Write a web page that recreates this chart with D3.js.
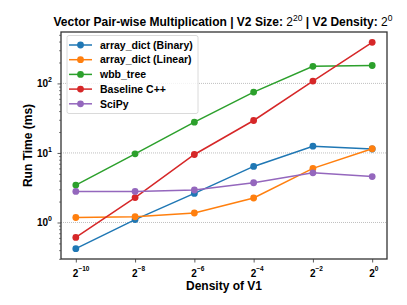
<!DOCTYPE html>
<html>
<head>
<meta charset="utf-8">
<script src="https://cdn.jsdelivr.net/npm/d3@7"></script>
<style>
	body { margin: 0; background: #fff; }
	svg { display: block; font-family: 'Liberation Sans', Arial, sans-serif; }
</style>
</head>
<body>
<div id="chart"></div>
<script>
// density exponents (x = 2^e)
const exponents = [-10, -8, -6, -4, -2, 0];

const seriesNames = ['array_dict (Binary)', 'array_dict (Linear)', 'wbb_tree', 'Baseline C++', 'SciPy'];
const binary = [0.42, 1.1, 2.62, 6.4, 12.5, 11.4];
const linear = [1.18, 1.21, 1.37, 2.25, 6.0, 11.5];
const wbbTree = [3.45, 9.7, 27.7, 75, 176, 181];
const baseline = [0.61, 2.28, 9.5, 29.3, 108, 390];
const scipy = [2.8, 2.8, 2.93, 3.73, 5.18, 4.58];
const colors = ['#1f77b4', '#ff7f0e', '#2ca02c', '#d62728', '#9467bd'];

const yTickExps = [0, 1, 2];

const w = 407;
const h = 305;
const margin = { left: 61, right: 20, top: 32, bottom: 46 };

const svg = d3
	.select('#chart')
	.append('svg')
	.attr('width', w)
	.attr('height', h);

const allSeries = [binary, linear, wbbTree, baseline, scipy];
const allVals = allSeries.flat();
const lo = Math.log10(d3.min(allVals));
const hi = Math.log10(d3.max(allVals));
const pad = (hi - lo) * 0.05;

const x = d3
	.scaleLog()
	.base(2)
	.domain([Math.pow(2, -10.5), Math.pow(2, 0.5)])
	.range([margin.left, w - margin.right]);

const y = d3
	.scaleLog()
	.domain([Math.pow(10, lo - pad), Math.pow(10, hi + pad)])
	.range([h - margin.bottom, margin.top]);

// grid at major decades
svg
	.selectAll('.grid')
	.data(yTickExps)
	.enter()
	.append('line')
	.attr('x1', margin.left)
	.attr('x2', w - margin.right)
	.attr('y1', d => y(Math.pow(10, d)))
	.attr('y2', d => y(Math.pow(10, d)))
	.attr('stroke', '#b0b0b0')
	.attr('stroke-width', 0.8)
	.attr('stroke-dasharray', '1,1');

// y axis with major and minor ticks
const minor = [];
for (let e = -1; e <= 2; e++) {
	for (let m = 2; m <= 9; m++) {
		const v = m * Math.pow(10, e);
		if (v >= y.domain()[0] && v <= y.domain()[1]) minor.push(v);
	}
}
svg
	.append('g')
	.attr('transform', `translate(${margin.left},0)`)
	.call(d3.axisLeft(y).tickValues(minor).tickSize(2).tickFormat(''))
	.call(g => g.select('.domain').remove())
	.selectAll('line')
	.attr('stroke', '#333')
	.attr('stroke-width', 0.6);

const yAxis = svg
	.append('g')
	.attr('transform', `translate(${margin.left},0)`)
	.call(
		d3
			.axisLeft(y)
			.tickValues(yTickExps.map(d => Math.pow(10, d)))
			.tickSize(3.5)
			.tickFormat('')
	);
yAxis.select('.domain').remove();
yAxis.selectAll('line').attr('stroke', '#333').attr('stroke-width', 0.8);

const yLab = svg
	.selectAll('.ylab')
	.data(yTickExps)
	.enter()
	.append('text')
	.attr('x', margin.left - 9)
	.attr('y', d => y(Math.pow(10, d)) + 4)
	.attr('text-anchor', 'end')
	.attr('font-size', 10)
	.attr('font-weight', 'bold');
yLab.append('tspan').text('10');
yLab
	.append('tspan')
	.attr('dy', -5)
	.attr('font-size', 7)
	.text(d => d);

// x axis
const xAxis = svg
	.append('g')
	.attr('transform', `translate(0,${h - margin.bottom})`)
	.call(
		d3
			.axisBottom(x)
			.tickValues(exponents.map(e => Math.pow(2, e)))
			.tickSize(3.5)
			.tickFormat('')
	);
xAxis.select('.domain').remove();
xAxis.selectAll('line').attr('stroke', '#333').attr('stroke-width', 0.8);

const xLab = svg
	.selectAll('.xlab')
	.data(exponents)
	.enter()
	.append('text')
	.attr('x', d => x(Math.pow(2, d)) - 3)
	.attr('y', h - margin.bottom + 18)
	.attr('font-size', 10)
	.attr('font-weight', 'bold');
xLab.append('tspan').text('2');
xLab
	.append('tspan')
	.attr('dy', -6)
	.attr('font-size', 6.5)
	.text(d => (d < 0 ? '\u2212' + -d : d));

// frame
svg
	.append('rect')
	.attr('x', margin.left)
	.attr('y', margin.top)
	.attr('width', w - margin.left - margin.right)
	.attr('height', h - margin.top - margin.bottom)
	.attr('fill', 'none')
	.attr('stroke', '#333')
	.attr('stroke-width', 1.3);

// lines and markers
const line = d3
	.line()
	.x((d, i) => x(Math.pow(2, exponents[i])))
	.y(d => y(d));

allSeries.forEach((s, k) => {
	svg
		.append('path')
		.datum(s)
		.attr('d', line)
		.attr('fill', 'none')
		.attr('stroke', colors[k])
		.attr('stroke-width', 1.5);
	svg
		.selectAll('.pt' + k)
		.data(s)
		.enter()
		.append('circle')
		.attr('cx', (d, i) => x(Math.pow(2, exponents[i])))
		.attr('cy', d => y(d))
		.attr('r', 3.4)
		.attr('fill', colors[k]);
});

// legend
const legend = svg.append('g').attr('transform', 'translate(67,35.5)');
legend
	.append('rect')
	.attr('width', 131)
	.attr('height', 78)
	.attr('rx', 2)
	.attr('fill', 'rgba(255,255,255,0.8)')
	.attr('stroke', '#d0d0d0')
	.attr('stroke-width', 0.8);
const items = legend
	.selectAll('.item')
	.data(seriesNames)
	.enter()
	.append('g')
	.attr('transform', (d, i) => `translate(0,${9.5 + i * 14.7})`);
items
	.append('line')
	.attr('x1', 2)
	.attr('x2', 25)
	.attr('stroke', (d, i) => colors[i])
	.attr('stroke-width', 1.5);
items
	.append('circle')
	.attr('cx', 13.5)
	.attr('r', 3.4)
	.attr('fill', (d, i) => colors[i]);
items
	.append('text')
	.attr('x', 33)
	.attr('y', 3.7)
	.attr('font-size', 10.5)
	.attr('font-weight', 'bold')
	.text(d => d);

// title
const title = svg
	.append('text')
	.attr('x', (margin.left + w - margin.right) / 2 - 1)
	.attr('y', 26)
	.attr('text-anchor', 'middle')
	.attr('font-size', 12)
	.attr('font-weight', 'bold');
title.append('tspan').text('Vector Pair-wise Multiplication | V2 Size: ');
title.append('tspan').attr('font-weight', 'normal').text('2');
title.append('tspan').attr('font-weight', 'normal').attr('font-size', 8.5).attr('dy', -5).text('20');
title.append('tspan').attr('dy', 5).text(' | V2 Density: ');
title.append('tspan').attr('font-weight', 'normal').text('2');
title.append('tspan').attr('font-weight', 'normal').attr('font-size', 8.5).attr('dy', -5).text('0');

// axis titles
svg
	.append('text')
	.attr('x', (margin.left + w - margin.right) / 2)
	.attr('y', 290)
	.attr('text-anchor', 'middle')
	.attr('font-size', 12)
	.attr('font-weight', 'bold')
	.text('Density of V1');

svg
	.append('text')
	.attr('transform', `translate(32,${(margin.top + h - margin.bottom) / 2}) rotate(-90)`)
	.attr('text-anchor', 'middle')
	.attr('font-size', 12)
	.attr('font-weight', 'bold')
	.text('Run Time (ms)');
</script>
</body>
</html>
